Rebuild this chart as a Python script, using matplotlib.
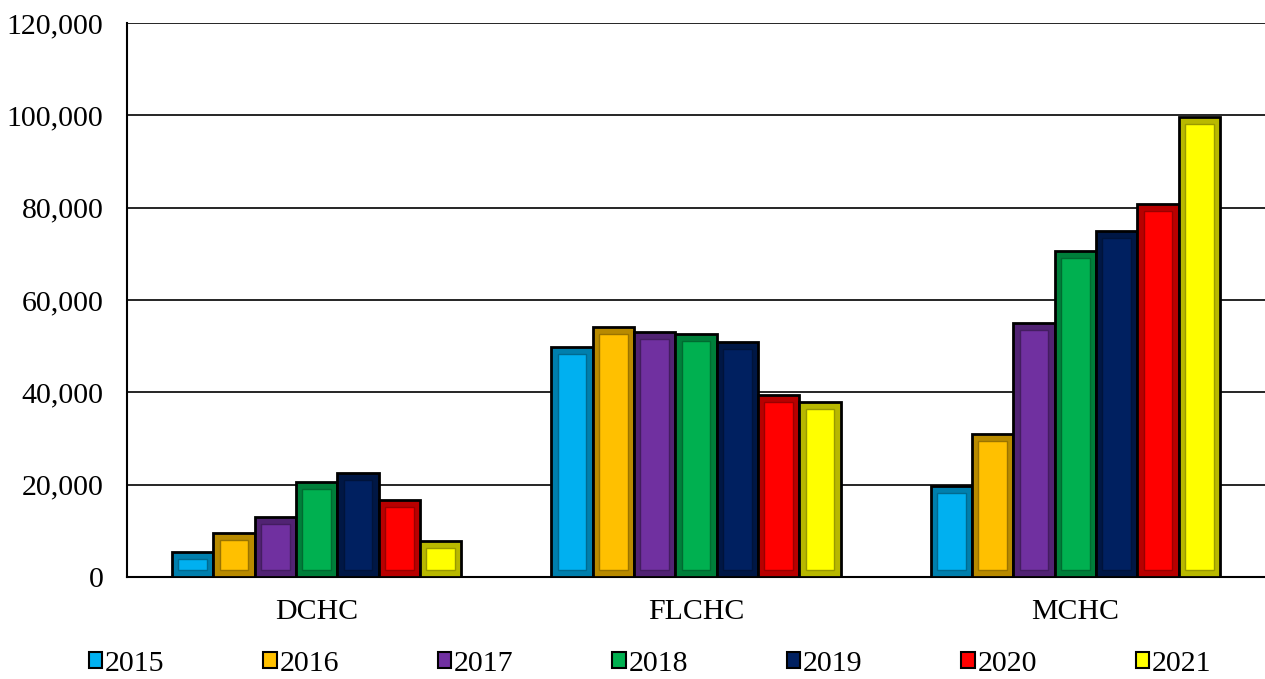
import numpy as np
import matplotlib
matplotlib.use('Agg')
import matplotlib.pyplot as plt
import matplotlib.colors as mcolors
from matplotlib.patches import Patch

# data
categories = ['DCHC', 'FLCHC', 'MCHC']
years = ['2015', '2016', '2017', '2018', '2019', '2020', '2021']
values = {
    '2015': [5400, 49800, 19700],
    '2016': [9500, 54100, 31000],
    '2017': [13000, 53000, 55000],
    '2018': [20600, 52600, 70600],
    '2019': [22500, 50900, 75000],
    '2020': [16700, 39400, 80800],
    '2021': [7800, 37900, 99600],
}
colors = ['#00B0F0', '#FFC000', '#7030A0', '#00B050', '#002060', '#FF0000', '#FFFF00']
yticks = [0, 20000, 40000, 60000, 80000, 100000, 120000]


def shade(c, f):
    r, g, b = mcolors.to_rgb(c)
    return (r * f, g * f, b * f)


plt.rcParams['font.family'] = 'Liberation Serif'
fs = 21.5

fig = plt.figure(figsize=(12.65, 6.79), dpi=100)
ax = fig.add_axes([0.1004, 0.150, 0.8996, 0.816])

x = np.arange(len(categories))
w = 0.109
inset_x = 0.017
inset_y = 1500

for i, yr in enumerate(years):
    pos = x + (i - 3) * w
    vals = np.array(values[yr])
    # outer bevel band
    ax.bar(pos, vals, width=w, color=shade(colors[i], 0.72),
           edgecolor='black', linewidth=2, zorder=3)
    # inner face
    ax.bar(pos, vals - 2 * inset_y, bottom=inset_y, width=w - 2 * inset_x,
           color=colors[i], edgecolor=shade(colors[i], 0.6), linewidth=1.0, zorder=4)

ax.set_xlim(-0.5, 2.5)
ax.set_ylim(0, 120000)
ax.set_yticks(yticks)
ax.set_yticklabels(['{:,}'.format(v) for v in yticks], fontsize=fs)
ax.set_xticks(x)
ax.set_xticklabels(categories, fontsize=fs)
ax.tick_params(axis='both', length=0)
ax.tick_params(axis='y', pad=17)
ax.tick_params(axis='x', pad=16)
ax.grid(axis='y', color='black', linewidth=1.2, zorder=0)
ax.set_axisbelow(True)
for s in ['top', 'right']:
    ax.spines[s].set_visible(False)
ax.spines['left'].set_linewidth(1.5)
ax.spines['bottom'].set_linewidth(1.5)

handles = [Patch(facecolor=colors[i], edgecolor='black', linewidth=1.5) for i in range(len(years))]
fig.legend(handles, years, loc='center', bbox_to_anchor=(0.514, 0.022), ncol=7,
           frameon=False, fontsize=fs, handlelength=0.45, handleheight=0.45,
           handletextpad=0.1, columnspacing=3.3)

plt.savefig('out.png', dpi=100)
